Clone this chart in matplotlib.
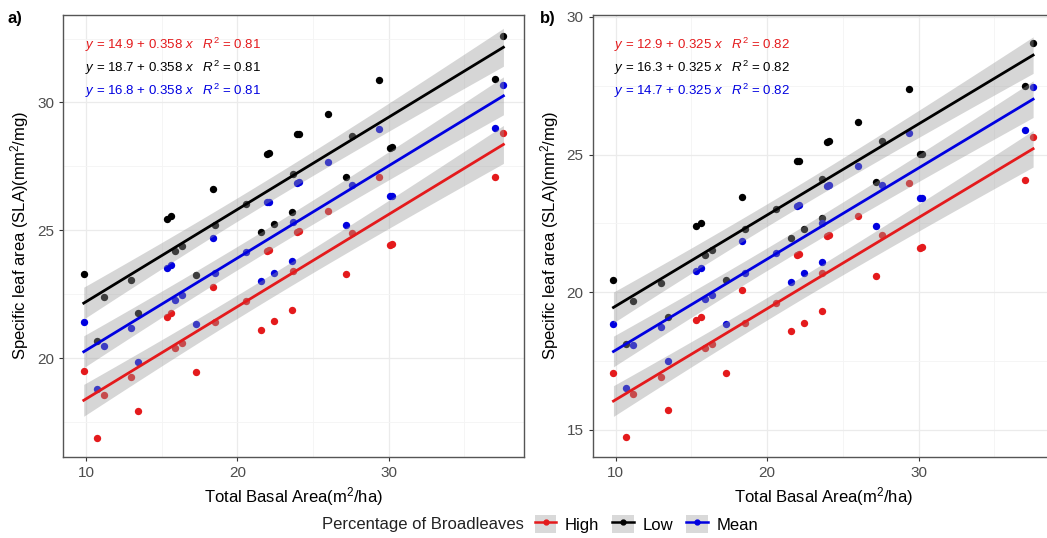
import numpy as np
import matplotlib
matplotlib.use("Agg")
from matplotlib import pyplot as plt
from matplotlib.lines import Line2D
from matplotlib.patches import Patch
from matplotlib.ticker import MultipleLocator

plt.rcParams['font.family'] = ['Liberation Sans', 'DejaVu Sans']
plt.rcParams['mathtext.fontset'] = 'custom'
plt.rcParams['mathtext.rm'] = 'Liberation Sans'
plt.rcParams['mathtext.it'] = 'Liberation Sans:italic'

# total basal area (same for every group)
basal = [9.85, 10.7, 11.16, 12.98, 13.44, 15.33, 15.63, 15.88, 16.36, 17.26,
         18.36, 18.53, 20.57, 21.56, 21.95, 22.10, 22.41, 23.60, 23.64, 23.93,
         24.06, 25.99, 27.19, 27.57, 29.34, 30.07, 30.20, 37.02, 37.57]

# panel a) SLA
a_high = [19.50, 16.89, 18.58, 19.27, 17.95, 21.63, 21.75, 20.39, 20.58, 19.45,
          22.80, 21.42, 22.24, 21.12, 24.20, 24.22, 21.45, 21.90, 23.41, 24.95,
          24.98, 25.76, 23.30, 24.89, 27.07, 24.43, 24.45, 27.10, 28.80]
a_low = [23.30, 20.69, 22.38, 23.07, 21.75, 25.43, 25.55, 24.19, 24.38, 23.25,
         26.60, 25.22, 26.04, 24.92, 28.00, 28.02, 25.25, 25.70, 27.21, 28.75,
         28.78, 29.56, 27.10, 28.69, 30.87, 28.23, 28.25, 30.90, 32.60]
a_mean = [21.40, 18.79, 20.48, 21.17, 19.85, 23.53, 23.65, 22.29, 22.48, 21.35,
          24.70, 23.32, 24.14, 23.02, 26.10, 26.12, 23.35, 23.80, 25.31, 26.85,
          26.88, 27.66, 25.20, 26.79, 28.97, 26.33, 26.35, 29.00, 30.70]

# panel b) SLA
b_high = [17.06, 14.73, 16.30, 16.93, 15.71, 18.99, 19.10, 17.97, 18.12, 17.06,
          20.07, 18.90, 19.62, 18.59, 21.35, 21.38, 18.90, 19.31, 20.71, 22.06,
          22.09, 22.78, 20.59, 22.09, 23.98, 21.62, 21.64, 24.08, 25.65]
b_low = [20.46, 18.13, 19.70, 20.33, 19.11, 22.39, 22.50, 21.37, 21.52, 20.46,
         23.47, 22.30, 23.02, 21.99, 24.75, 24.78, 22.30, 22.71, 24.11, 25.46,
         25.49, 26.18, 23.99, 25.49, 27.38, 25.02, 25.04, 27.48, 29.05]
b_mean = [18.86, 16.53, 18.10, 18.73, 17.51, 20.79, 20.90, 19.77, 19.92, 18.86,
          21.87, 20.70, 21.42, 20.39, 23.15, 23.18, 20.70, 21.11, 22.51, 23.86,
          23.89, 24.58, 22.39, 23.89, 25.78, 23.42, 23.44, 25.88, 27.45]

groups = ['High', 'Low', 'Mean']
colors = ['#E41A1C', '#000000', '#0000E0']
eq_a = ['14.9 + 0.358', '18.7 + 0.358', '16.8 + 0.358']
eq_b = ['12.9 + 0.325', '16.3 + 0.325', '14.7 + 0.325']
r2_a = '0.81'
r2_b = '0.82'


def smooth(ax, series):
    # common slope model (one intercept per group)
    x = np.array(basal)
    ys = [np.array(y) for y in series]
    xc = x - x.mean()
    sxx = np.sum(xc ** 2) * len(ys)
    b = sum(np.sum(xc * (y - y.mean())) for y in ys) / sxx
    ntot = len(x) * len(ys)
    rss = sum(np.sum((y - y.mean() - b * xc) ** 2) for y in ys)
    s = np.sqrt(rss / (ntot - len(ys) - 1))
    t = 1.989  # t quantile, df = 83
    xs = np.linspace(x.min(), x.max(), 80)
    se = s * np.sqrt(1.0 / len(x) + (xs - x.mean()) ** 2 / sxx)
    fits = []
    for y in ys:
        fit = y.mean() + b * (xs - x.mean())
        fits.append(fit)
        ax.fill_between(xs, fit - t * se, fit + t * se, color='#999999',
                        alpha=0.4, lw=0, zorder=3)
    for fit, col in zip(fits, colors):
        ax.plot(xs, fit, color=col, lw=2.0, zorder=4)


def panel(ax, series, eqs, r2, ylim, yticks):
    for y, col in zip(series, colors):
        ax.scatter(basal, y, s=28, color=col, lw=0, zorder=2)
    smooth(ax, series)
    for i, (e, col) in enumerate(zip(eqs, colors)):
        ax.text(0.047, 0.932 - i * 0.052,
                r'$y$ = ' + e + r' $x$   $R^2$ = ' + r2,
                transform=ax.transAxes, color=col, fontsize=9.5, va='center')
    ax.set_xlim(8.48, 38.95)
    ax.set_ylim(*ylim)
    ax.set_xticks([10, 20, 30])
    ax.set_yticks(yticks)
    ax.xaxis.set_minor_locator(MultipleLocator(5))
    ax.yaxis.set_minor_locator(MultipleLocator(2.5))
    ax.grid(which='major', color='#EBEBEB', lw=0.9, zorder=0)
    ax.grid(which='minor', color='#F4F4F4', lw=0.6, zorder=0)
    ax.set_axisbelow(True)
    ax.tick_params(which='minor', length=0)
    ax.tick_params(which='major', length=3, color='#333333', labelsize=11,
                   labelcolor='#4D4D4D')
    for sp in ax.spines.values():
        sp.set_color('#555555')
        sp.set_linewidth(1.0)
    ax.set_xlabel('Total Basal Area(m$^2$/ha)', fontsize=12)
    ax.set_ylabel('Specific leaf area (SLA)(mm$^2$/mg)', fontsize=12)


fig = plt.figure(figsize=(10.47, 5.38), dpi=100)
W, H = 1047.0, 538.0
ax1 = fig.add_axes([63 / W, 1 - 456.7 / H, 461.3 / W, 441.7 / H])
ax2 = fig.add_axes([592.7 / W, 1 - 456.7 / H, 461.3 / W, 441.7 / H])

panel(ax1, [a_high, a_low, a_mean], eq_a, r2_a, (16.15, 33.42), [20, 25, 30])
panel(ax2, [b_high, b_low, b_mean], eq_b, r2_b, (14.03, 30.07), [15, 20, 25, 30])

fig.text(8 / W, 1 - 18 / H, 'a)', fontsize=12, fontweight='bold', va='center')
fig.text(540 / W, 1 - 18 / H, 'b)', fontsize=12, fontweight='bold', va='center')

# legend at the bottom
handles = []
for col in colors:
    handles.append((Patch(facecolor='#D9D9D9', edgecolor='none'),
                    Line2D([], [], color=col, lw=1.8, marker='o', markersize=3.5)))
fig.text(322 / W, 1 - 524 / H, 'Percentage of Broadleaves', fontsize=12,
         va='center', color='#222222')
fig.legend(handles, groups, loc='center left', bbox_to_anchor=(528 / W, 1 - 524 / H),
           ncol=3, frameon=False, fontsize=12, handlelength=1.3, handleheight=1.3,
           handletextpad=0.5, columnspacing=0.8, borderaxespad=0)

fig.savefig('out.png', dpi=100)
